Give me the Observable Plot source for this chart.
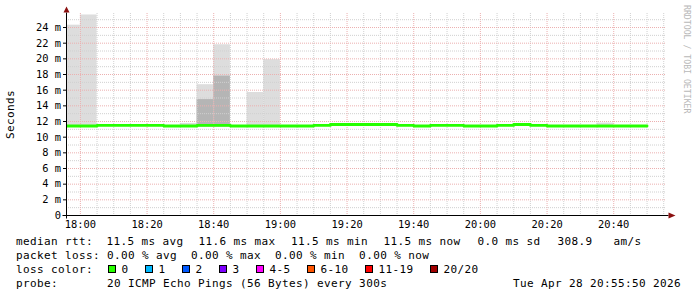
<!DOCTYPE html>
<html><head><meta charset="utf-8">
<script src="https://cdn.jsdelivr.net/npm/d3@7"></script>
<script src="https://cdn.jsdelivr.net/npm/@observablehq/plot@0.6"></script>
<style>
html,body{margin:0;padding:0;background:#fff;}
#wrap{position:relative;width:697px;height:297px;background:#fff;overflow:hidden;}
#wrap svg{display:block;}
text{font-family:"DejaVu Sans Mono",monospace;}
</style></head>
<body><div id="wrap"></div>
<script>
// ---- data ----
const windowStart = "17:55:50";
const windowEnd = "20:55:50";
const intervalStart = ["17:55","18:00","18:05","18:10","18:15","18:20","18:25","18:30","18:35","18:40",
  "18:45","18:50","18:55","19:00","19:05","19:10","19:15","19:20","19:25","19:30",
  "19:35","19:40","19:45","19:50","19:55","20:00","20:05","20:10","20:15","20:20",
  "20:25","20:30","20:35","20:40","20:45"];
const lastEnd = "20:50";
const medianRtt = [11.43,11.43,11.5,11.5,11.5,11.5,11.43,11.43,11.5,11.5,
  11.43,11.43,11.43,11.43,11.43,11.5,11.62,11.62,11.62,11.62,
  11.5,11.43,11.5,11.5,11.43,11.43,11.5,11.62,11.5,11.43,
  11.43,11.43,11.43,11.43,11.43];
const smokeMin = [11.3,11.3,null,null,null,null,null,11.3,11.3,11.3,
  null,11.3,11.3,null,null,null,null,null,null,null,
  null,null,null,null,null,null,null,null,null,null,
  null,null,11.3,null,null];
const smokeMax = [24.3,25.6,null,null,null,null,null,11.75,16.7,21.8,
  null,15.7,19.9,null,null,null,null,null,null,null,
  null,null,null,null,null,null,null,null,null,null,
  null,null,11.8,null,null];
const smokeDarkTop = [null,null,null,null,null,null,null,null,14.8,17.8,
  null,null,null,null,null,null,null,null,null,null,
  null,null,null,null,null,null,null,null,null,null,
  null,null,null,null,null];
const yTicks = [0,2,4,6,8,10,12,14,16,18,20,22,24];
const yMinorGrid = [1,3,5,7,9,11,13,15,17,19,21,23,25];
const yMax = 25.79;
const xLabelTimes = ["18:00","18:20","18:40","19:00","19:20","19:40","20:00","20:20","20:40"];
const rttLabels = ["avg","max","min","now"];
const rttValues = [11.5,11.6,11.5,11.5];
const rttSd = 0.0;
const amPerS = 308.9;
const lossLabels = ["avg","max","min","now"];
const lossValues = [0.00,0.00,0.00,0.00];
const lossColorLabels = ["0","1","2","3","4-5","6-10","11-19","20/20"];
const lossColors = ["#26ff00","#00b8ff","#0059ff","#7e00ff","#ff00ff","#ff5500","#ff0000","#a10000"];
const probeText = "20 ICMP Echo Pings (56 Bytes) every 300s";
const stampText = "Tue Apr 28 20:55:50 2026";
const yTitle = "Seconds";
const watermark = "RRDTOOL / TOBI OETIKER";

// ---- build tables ----
const T = s => new Date(`2026-04-28T${s.length === 5 ? s + ":00" : s}Z`);
const start = T(windowStart), end = T(windowEnd);
const rows = intervalStart.map((s, i) => ({
  t0: T(s), t1: T(i + 1 < intervalStart.length ? intervalStart[i + 1] : lastEnd),
  med: medianRtt[i], lo: smokeMin[i], hi: smokeMax[i], dk: smokeDarkTop[i]
}));
const linePts = rows.map(r => ({t: r.t0, v: r.med})).concat([{t: T(lastEnd), v: medianRtt[medianRtt.length - 1]}]);
const majorX = xLabelTimes.map(T);
const majorSet = new Set(majorX.map(d => +d));
const minorX = d3.utcMinute.every(5).range(T("18:00"), end).filter(d => !majorSet.has(+d));

const monoStyle = {fontFamily: "DejaVu Sans Mono", fontSize: "10.4px", background: "#fff", color: "#000", overflow: "visible"};
const plot = Plot.plot({
  width: 697, height: 232,
  marginLeft: 66, marginRight: 31, marginTop: 13, marginBottom: 17,
  style: monoStyle,
  x: {type: "utc", domain: [start, end]},
  y: {domain: [0, yMax]},
  marks: [
    Plot.rect(rows.filter(r => r.hi != null), {x1: "t0", x2: "t1", y1: "lo", y2: "hi", fill: "#dddddd", clip: true}),
    Plot.rect(rows.filter(r => r.dk != null), {x1: "t0", x2: "t1", y1: "lo", y2: "dk", fill: "#b5b5b5", clip: true}),
    Plot.ruleY(yMinorGrid.filter(v => v <= yMax), {stroke: "#d0d0d0", strokeDasharray: "1,1"}),
    Plot.ruleX(minorX, {stroke: "#d0d0d0", strokeDasharray: "1,1"}),
    Plot.ruleY(yTicks.filter(v => v > 0), {stroke: "#ecb0b0", strokeDasharray: "1,1"}),
    Plot.ruleX(majorX, {stroke: "#ecb0b0", strokeDasharray: "1,1"}),
    Plot.line(linePts, {x: "t", y: "v", curve: "step-after", stroke: "#26ff00", strokeWidth: 2.8, clip: true}),
    Plot.axisY(yTicks, {anchor: "left", tickSize: 3, tickPadding: 2.5, label: null,
      tickFormat: d => d === 0 ? "0" : `${d} m`}),
    Plot.axisX(majorX, {anchor: "bottom", tickSize: 0, tickPadding: 5, label: null,
      tickFormat: d3.utcFormat("%H:%M")})
  ]
});
document.getElementById("wrap").appendChild(plot);

// axes lines, arrows, titles
const svg = d3.select(plot);
const xs = plot.scale("x"), ys = plot.scale("y");
const ax0 = xs.apply(start) + 0.5, ax1 = xs.apply(end) + 0.5;
const ay0 = ys.apply(0) + 0.5, ayTop = ys.apply(yMax) + 0.5;
const g = svg.append("g");
g.append("line").attr("x1", ax0 - 4).attr("x2", ax1 + 2).attr("y1", ay0).attr("y2", ay0).attr("stroke", "#000");
g.append("line").attr("x1", ax0).attr("x2", ax0).attr("y1", ay0 + 3).attr("y2", ayTop - 1).attr("stroke", "#000");
g.append("path").attr("d", `M${ax1 + 2},${ay0 - 3}L${ax1 + 9},${ay0}L${ax1 + 2},${ay0 + 3}Z`).attr("fill", "#8b1010");
g.append("path").attr("d", `M${ax0 - 3},${ayTop - 1}L${ax0},${ayTop - 7}L${ax0 + 3},${ayTop - 1}Z`).attr("fill", "#8b1010");
g.append("text").text(yTitle).attr("transform", `translate(14,${(ay0 + ayTop) / 2})rotate(-90)`)
  .attr("text-anchor", "middle").style("font-size", "11px").style("letter-spacing", "0.38px").attr("fill", "#000");
g.append("text").text(watermark).attr("transform", "translate(684,5)rotate(90)")
  .attr("text-anchor", "start").style("font-size", "8.2px").attr("fill", "#b8b8b8");

// ---- legend (below the svg) ----
const leg = d3.select("#wrap").append("svg").attr("width", 697).attr("height", 65)
  .style("font-family", "DejaVu Sans Mono").style("font-size", "11px").style("letter-spacing", "0.38px");
const CW = 7;
const line1 = ["median rtt:"].concat(rttLabels.map((l, i) => `${rttValues[i].toFixed(1)} ms ${l}`))
  .concat([`${rttSd.toFixed(1)} ms sd`, `${amPerS.toFixed(1)}   am/s`]);
const line1X = [16, 106.5, 198.5, 291, 383.5, 477.5, 557.5];
line1.forEach((s, i) => leg.append("text").attr("x", line1X[i]).attr("y", 13.3).style("white-space", "pre").text(s));
const line2 = "packet loss: " + lossLabels.map((l, i) => `${lossValues[i].toFixed(2)} % ${l}`).join("  ");
leg.append("text").attr("x", 16).attr("y", 27.3).style("white-space", "pre").text(line2);
leg.append("text").attr("x", 16).attr("y", 41.4).text("loss color:");
let bx = 108;
lossColorLabels.forEach((l, i) => {
  leg.append("rect").attr("x", bx + 0.5).attr("y", 33.5).attr("width", 7).attr("height", 7)
    .attr("fill", lossColors[i]).attr("stroke", "#000");
  const lx = bx + 13.5;
  leg.append("text").attr("x", lx).attr("y", 41.4).text(l);
  bx = lx + l.length * CW + 16.5;
});
leg.append("text").attr("x", 16).attr("y", 55.3).style("white-space", "pre").text("probe:       " + probeText);
leg.append("text").attr("x", 681).attr("y", 55.3).attr("text-anchor", "end").text(stampText);
</script></body></html>
